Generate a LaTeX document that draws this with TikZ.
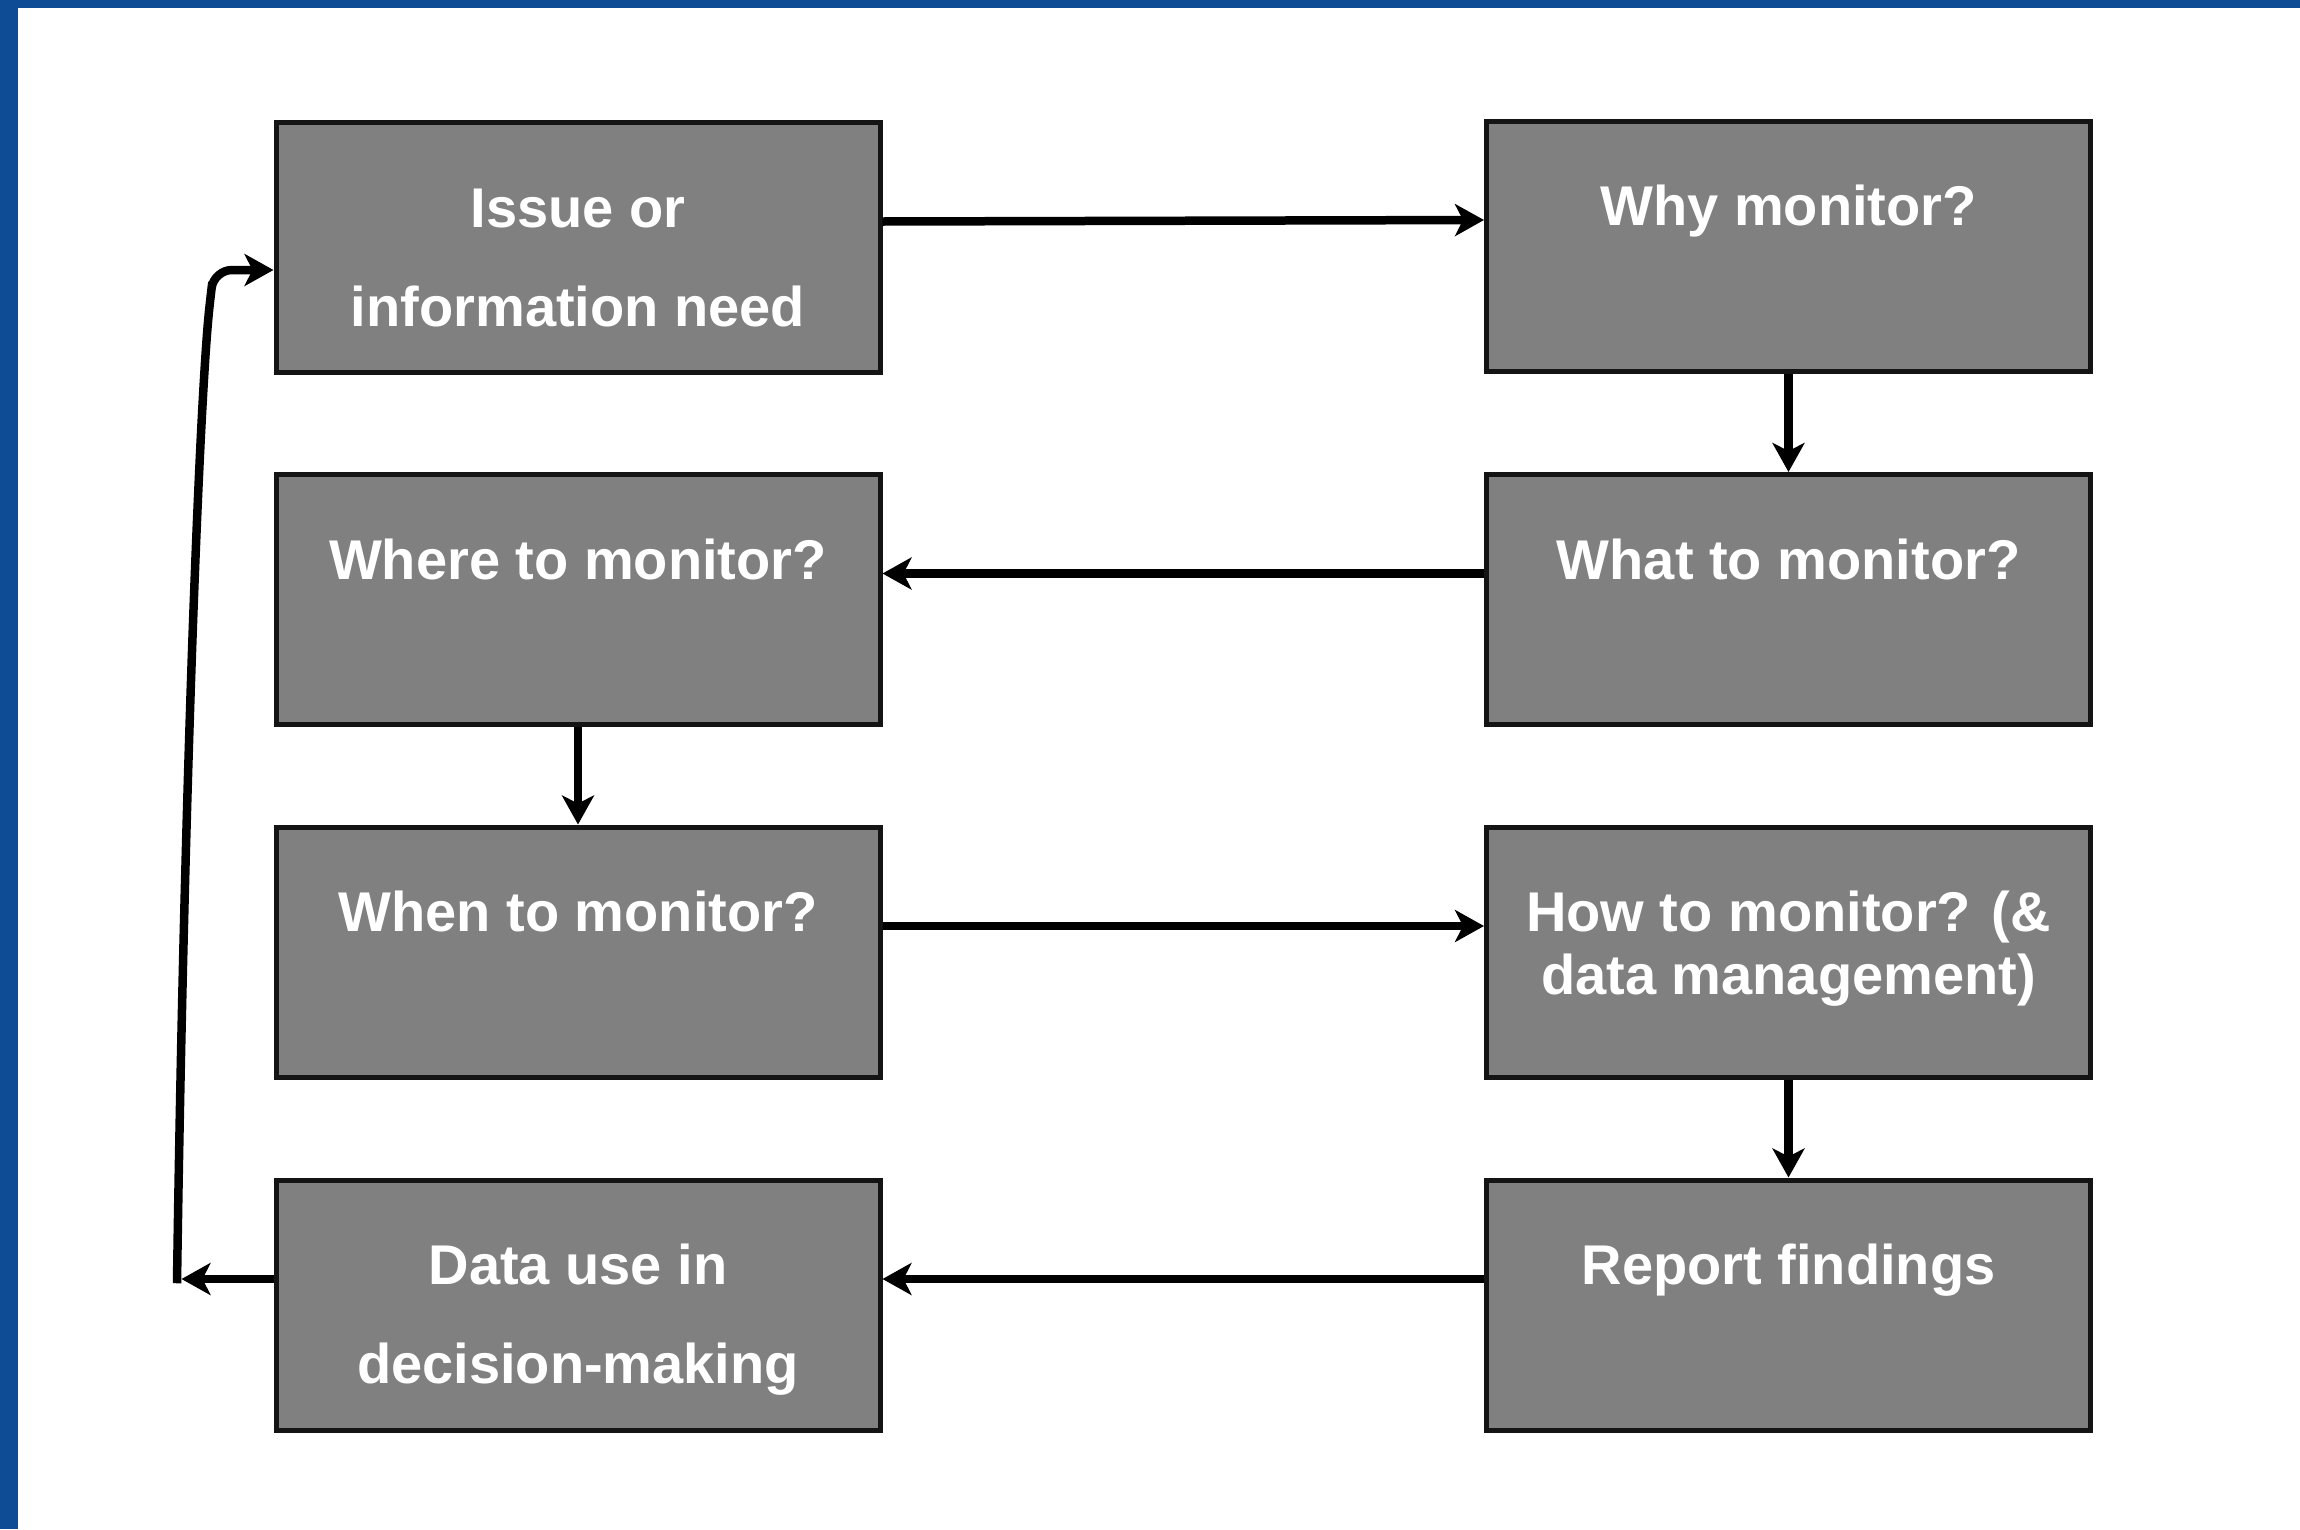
\documentclass[tikz,border=0pt]{standalone}
\usepackage{fontspec}
\setmainfont{Liberation Sans}
\usetikzlibrary{arrows.meta}
\definecolor{frameblue}{HTML}{0E4C96}
\definecolor{boxgray}{HTML}{808080}
\definecolor{edgecol}{HTML}{141414}
\newcommand{\bxt}[2]{\parbox[c][250pt][t]{604pt}{\centering\fontsize{56}{#1}\selectfont\bfseries\rule{0pt}{104.5pt}#2\par}}
\begin{document}
\begin{tikzpicture}[x=1pt,y=-1pt,
  box/.style={draw=edgecol, line width=5pt, fill=boxgray, text=white,
    minimum width=604pt, minimum height=250pt, inner sep=0pt},
  arr/.style={draw=black, line width=8.5pt, -{Stealth[length=29pt,width=32pt,inset=8pt]}}]
\useasboundingbox (0,0) rectangle (2300,1529);
\fill[white] (0,0) rectangle (2300,1529);
\fill[frameblue] (0,0) rectangle (18,1529);
\fill[frameblue] (0,0) rectangle (2300,8);

\node[box] (issue)  at (578,247.5)   {\bxt{99}{Issue or\\information need}};
\node[box] (why)    at (1788.5,246)  {\bxt{99}{Why monitor?}};
\node[box] (where)  at (578,599.5)   {\bxt{99}{Where to monitor?}};
\node[box] (what)   at (1788.5,599.5){\bxt{99}{What to monitor?}};
\node[box] (when)   at (578,952)     {\bxt{99}{When to monitor?}};
\node[box] (how)    at (1788.5,952)  {\bxt{63}{How to monitor? (\&\\data management)}};
\node[box] (data)   at (578,1305)    {\bxt{99}{Data use in\\decision-making}};
\node[box] (report) at (1788.5,1305) {\bxt{99}{Report findings}};

\draw[arr] ([yshift=26pt]issue.east) -- ([yshift=26pt]why.west);
\draw[arr] (why.south) -- (what.north);
\draw[arr] ([yshift=26pt]what.west) -- ([yshift=26pt]where.east);
\draw[arr] (where.south) -- (when.north);
\draw[arr] ([yshift=26pt]when.east) -- ([yshift=26pt]how.west);
\draw[arr] (how.south) -- (report.north);
\draw[arr] ([yshift=26pt]report.west) -- ([yshift=26pt]data.east);

\coordinate (lc) at (177,1279);
\draw[arr] ([yshift=26pt]data.west) -- ([xshift=4.5pt]lc);
\draw[arr, rounded corners=18pt] ([yshift=-4.25pt]lc) .. controls (184,800) and (199,420) .. (210,300) -- (214,270) -- ([yshift=-22.5pt]issue.west);
\end{tikzpicture}
\end{document}
